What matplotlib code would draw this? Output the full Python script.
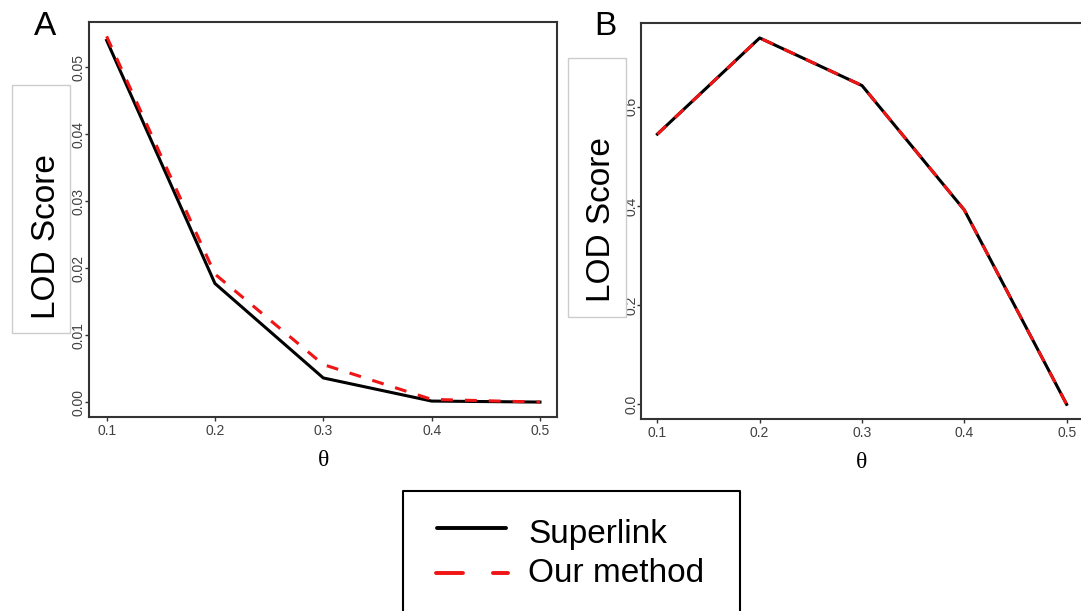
import matplotlib
matplotlib.use("Agg")
import matplotlib.pyplot as plt
from matplotlib.lines import Line2D
from matplotlib.patches import Rectangle
from matplotlib.ticker import FormatStrFormatter

# ---- data -------------------------------------------------------------
theta = [0.1, 0.2, 0.3, 0.4, 0.5]

lod_a_superlink = [0.0540, 0.0177, 0.0036, 0.00015, 0.0]
lod_a_ours = [0.0546, 0.0191, 0.0056, 0.0004, 0.0]

lod_b_superlink = [0.545, 0.739, 0.643, 0.392, 0.0]
lod_b_ours = [0.545, 0.739, 0.643, 0.392, 0.0]

yticks_a = [0.00, 0.01, 0.02, 0.03, 0.04, 0.05]
yticks_b = [0.0, 0.2, 0.4, 0.6]

series_labels = ["Superlink", "Our method"]
panel_labels = ["A", "B"]
y_label = "LOD Score"
x_label = "\u03b8"

# ---- style ------------------------------------------------------------
plt.rcParams["font.family"] = ["Liberation Sans", "DejaVu Sans"]
plt.rcParams["lines.scale_dashes"] = False

W, H = 1081, 611
fig = plt.figure(figsize=(W / 100, H / 100), dpi=100)
fig.patch.set_facecolor("white")

RED = "#f01414"
SPINE = "#333333"
TICKTXT = "#404040"
DASH = (0, (8.6, 8.6))


def fx(x):
    return x / W


def fy(y):
    return 1 - y / H


def add_axes_px(left, top, right, bottom):
    return fig.add_axes([fx(left), fy(bottom), (right - left) / W, (bottom - top) / H])


def style_axes(ax, yticks, yfmt, ypad, xlabel_baseline_px, height_px):
    ax.margins(x=0.04, y=0.04)
    ax.set_xticks(theta)
    ax.set_yticks(yticks)
    ax.xaxis.set_major_formatter(FormatStrFormatter("%.1f"))
    ax.yaxis.set_major_formatter(FormatStrFormatter(yfmt))
    for s in ax.spines.values():
        s.set_color(SPINE)
        s.set_linewidth(1.5)
    ax.tick_params(axis="both", direction="out", length=3.2, width=1.0,
                   color=SPINE, labelcolor=TICKTXT, labelsize=10)
    ax.tick_params(axis="x", pad=2.0)
    ax.tick_params(axis="y", labelrotation=90, pad=ypad)
    for lab in ax.get_yticklabels():
        lab.set_va("center")
    ax.set_xlabel(x_label, fontfamily=["Liberation Serif", "DejaVu Serif"],
                  fontsize=17, va="baseline")
    ax.xaxis.set_label_coords(0.5, -xlabel_baseline_px / height_px)


# ---- panel A ----------------------------------------------------------
axA = add_axes_px(89.3, 21.7, 557.3, 416.7)
axA.plot(theta, lod_a_superlink, color="black", lw=2.2, zorder=3)
axA.plot(theta, lod_a_ours, color=RED, lw=2.2, linestyle=DASH, zorder=4)
style_axes(axA, yticks_a, "%.2f", -0.6, 466 - 416.7, 416.7 - 21.7)

# ---- panel B ----------------------------------------------------------
axB = add_axes_px(641, 23.3, 1083, 419)
axB.plot(theta, lod_b_superlink, color="black", lw=2.2, zorder=3)
axB.plot(theta, lod_b_ours, color=RED, lw=2.2, linestyle=DASH, zorder=4)
style_axes(axB, yticks_b, "%.1f", -1.3, 468 - 419, 419 - 23.3)

# ---- boxed y-axis titles ---------------------------------------------
for (l, t, r, b), (tx, ty) in [((12, 85, 70, 333), (55, 236.5)),
                               ((568.3, 58.3, 626.3, 317.3), (610, 220))]:
    fig.add_artist(Rectangle((fx(l), fy(b)), (r - l) / W, (b - t) / H,
                             transform=fig.transFigure, facecolor="white",
                             edgecolor="#cccccc", lw=1.0, zorder=5))
    fig.text(fx(tx), fy(ty), y_label, rotation=90, rotation_mode="anchor",
             ha="center", va="baseline", fontsize=24, color="black", zorder=6)

# ---- panel letters ----------------------------------------------------
fig.text(fx(34), fy(35), panel_labels[0], fontsize=24, ha="left", va="baseline")
fig.text(fx(594.5), fy(35), panel_labels[1], fontsize=24, ha="left", va="baseline")

# ---- legend box (open at the bottom edge of the figure) ---------------
box_l, box_t, box_r = 403, 491, 740
frame_kw = dict(transform=fig.transFigure, color="black", lw=1.5, zorder=5)
fig.add_artist(Line2D([fx(box_l), fx(box_l), fx(box_r), fx(box_r)],
                      [0, fy(box_t), fy(box_t), 0], **frame_kw))

fig.add_artist(Line2D([fx(437), fx(506)], [fy(528), fy(528)],
                      transform=fig.transFigure, color="black", lw=2.8,
                      solid_capstyle="round", zorder=6))
fig.add_artist(Line2D([fx(436), fx(508)], [fy(573), fy(573)],
                      transform=fig.transFigure, color=RED, lw=2.8,
                      linestyle=(0, (19.4, 21.6)), dash_capstyle="round", zorder=6))
fig.text(fx(528.5), fy(543.3), series_labels[0], fontsize=24, ha="left", va="baseline")
fig.text(fx(528.5), fy(581.5), series_labels[1], fontsize=24, ha="left", va="baseline")

fig.savefig("out.png", dpi=100, facecolor="white")
